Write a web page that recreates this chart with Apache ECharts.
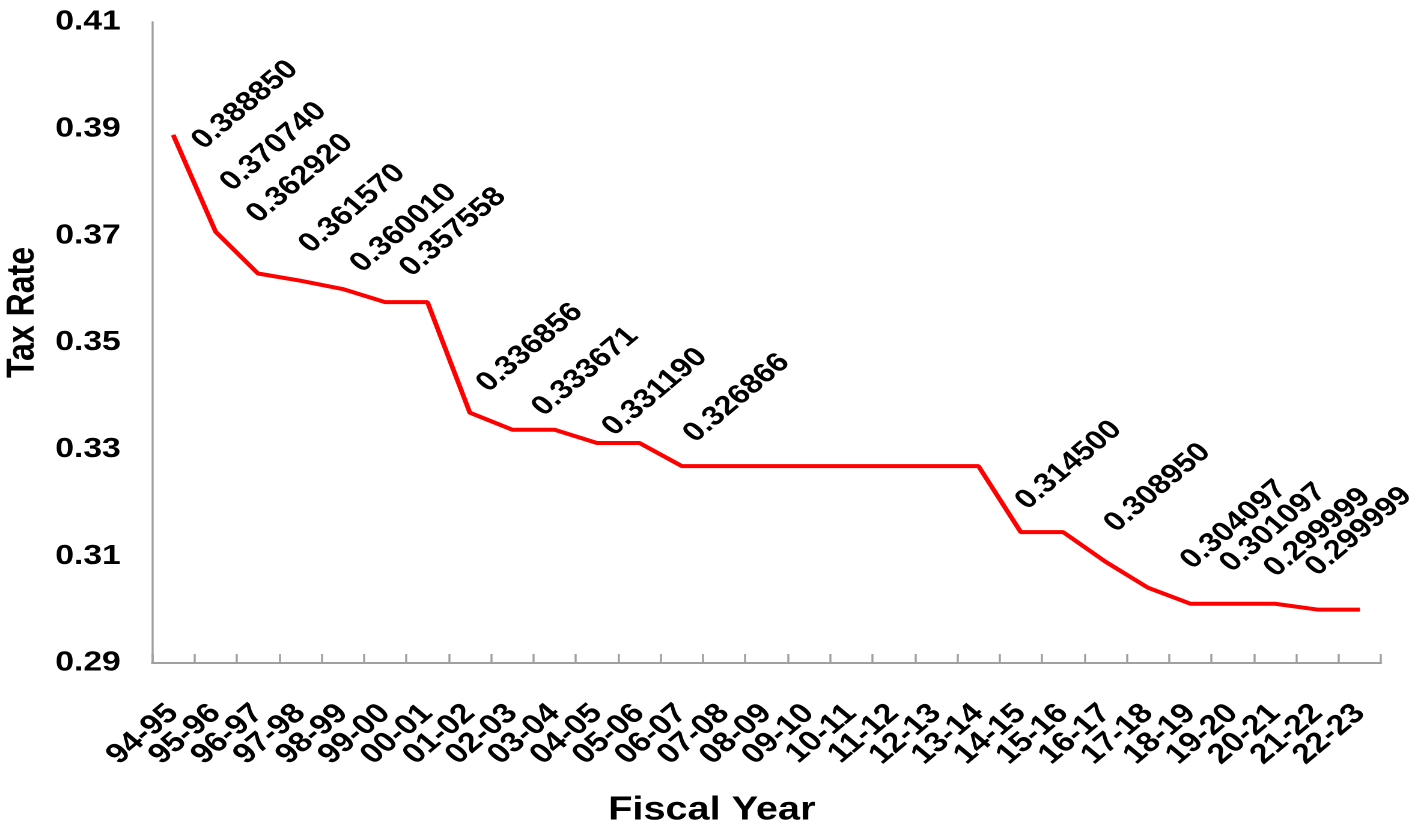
<!DOCTYPE html>
<html>
<head>
<meta charset="utf-8">
<title>Tax Rate by Fiscal Year</title>
<script src="https://cdn.jsdelivr.net/npm/echarts@6/dist/echarts.min.js"></script>
<style>
  html, body { margin: 0; padding: 0; background: #fff; overflow: hidden; }
  /* the source picture is stretched sideways, so draw narrower and widen it */
  #chart { width: 1180px; height: 825px; transform: scaleX(1.2017); transform-origin: 0 0; }
</style>
</head>
<body>
<div id="chart"></div>
<script>
const categories = [
  "94-95", "95-96", "96-97", "97-98", "98-99", "99-00", "00-01", "01-02",
  "02-03", "03-04", "04-05", "05-06", "06-07", "07-08", "08-09", "09-10",
  "10-11", "11-12", "12-13", "13-14", "14-15", "15-16", "16-17", "17-18",
  "18-19", "19-20", "20-21", "21-22", "22-23"
];
const taxRates = [
  0.388850, 0.370740, 0.362920, 0.361570, 0.360010, 0.357558, 0.357558, 0.336856,
  0.333671, 0.333671, 0.331190, 0.331190, 0.326866, 0.326866, 0.326866, 0.326866,
  0.326866, 0.326866, 0.326866, 0.326866, 0.314500, 0.314500, 0.308950, 0.304097,
  0.301097, 0.301097, 0.301097, 0.299999, 0.299999
];
const yTicks = [0.29, 0.31, 0.33, 0.35, 0.37, 0.39, 0.41];

// which points carry a value label, and where the label centre sits (screen px from the point)
const labelledPoints = [0, 1, 2, 3, 4, 5, 7, 8, 10, 12, 20, 22, 23, 24, 27, 28];
const labelShift = [
  [72, -30], [58, -85], [42, -95], [52, -72], [61, -61], [68, -70], [60, -65], [73, -58],
  [58, -51], [55, -68], [48, -67], [52, -74], [86, -63], [83, -76], [0, -77], [-1, -78]
];

const STRETCH = 1418 / 1180;
const FONT = "'Liberation Sans', Arial, sans-serif";
const LABEL_ROTATE = 45;

// label offset is applied in the rotated label frame; undo the stretch, then rotate
function toLabelFrame(dx, dy) {
  const t = LABEL_ROTATE * Math.PI / 180;
  const x = dx / STRETCH;
  return [x * Math.cos(t) - dy * Math.sin(t), x * Math.sin(t) + dy * Math.cos(t)];
}

const seriesData = taxRates.map((v, i) => {
  const k = labelledPoints.indexOf(i);
  if (k < 0) return v;
  return {
    value: v,
    label: {
      show: true,
      offset: toLabelFrame(labelShift[k][0], labelShift[k][1])
    }
  };
});

const chart = echarts.init(document.getElementById("chart"), null, {
  renderer: "canvas",
  devicePixelRatio: 2
});

chart.setOption({
  animation: false,
  backgroundColor: "#fff",
  grid: {
    left: 152 / STRETCH,
    right: 37 / STRETCH,
    top: 22,
    bottom: 162,
    outerBoundsMode: "none"
  },
  xAxis: {
    type: "category",
    data: categories,
    boundaryGap: true,
    name: "Fiscal Year",
    nameLocation: "middle",
    nameGap: 131,
    nameTextStyle: {
      fontFamily: FONT,
      fontWeight: "bold",
      fontSize: 33,
      color: "#000",
      padding: [0, 91, 0, 0]
    },
    axisLine: { lineStyle: { color: "#a0a0a0", width: 2 } },
    axisTick: {
      show: true,
      inside: true,
      length: 9,
      lineStyle: { color: "#a0a0a0", width: 1.7 }
    },
    axisLabel: {
      interval: 0,
      rotate: LABEL_ROTATE,
      margin: 46,
      padding: [22, 0, 0, 0],
      fontFamily: FONT,
      fontWeight: "bold",
      fontSize: 28,
      color: "#000"
    },
    splitLine: { show: false }
  },
  yAxis: {
    type: "value",
    min: yTicks[0],
    max: yTicks[yTicks.length - 1],
    interval: 0.02,
    name: "Tax Rate",
    nameLocation: "middle",
    nameRotate: 90,
    nameGap: 84,
    nameTextStyle: {
      fontFamily: FONT,
      fontWeight: "bold",
      fontSize: 32,
      color: "#000",
      padding: [0, 0, 0, 60]
    },
    axisLine: { show: true, lineStyle: { color: "#a0a0a0", width: 1.7 } },
    axisTick: { show: false },
    axisLabel: {
      margin: 26,
      fontFamily: FONT,
      fontWeight: "bold",
      fontSize: 28,
      color: "#000",
      formatter: v => v.toFixed(2)
    },
    splitLine: { show: false }
  },
  series: [
    {
      name: "Tax Rate",
      type: "line",
      data: seriesData,
      symbol: "circle",
      symbolSize: 1,
      showSymbol: true,
      itemStyle: { color: "#ff0000" },
      lineStyle: { color: "#ff0000", width: 4 },
      label: {
        show: false,
        position: "inside",
        rotate: LABEL_ROTATE,
        align: "center",
        verticalAlign: "middle",
        fontFamily: FONT,
        fontWeight: "bold",
        fontSize: 27,
        color: "#000",
        formatter: p => p.value.toFixed(6)
      },
      emphasis: { disabled: true }
    }
  ]
});
</script>
</body>
</html>
